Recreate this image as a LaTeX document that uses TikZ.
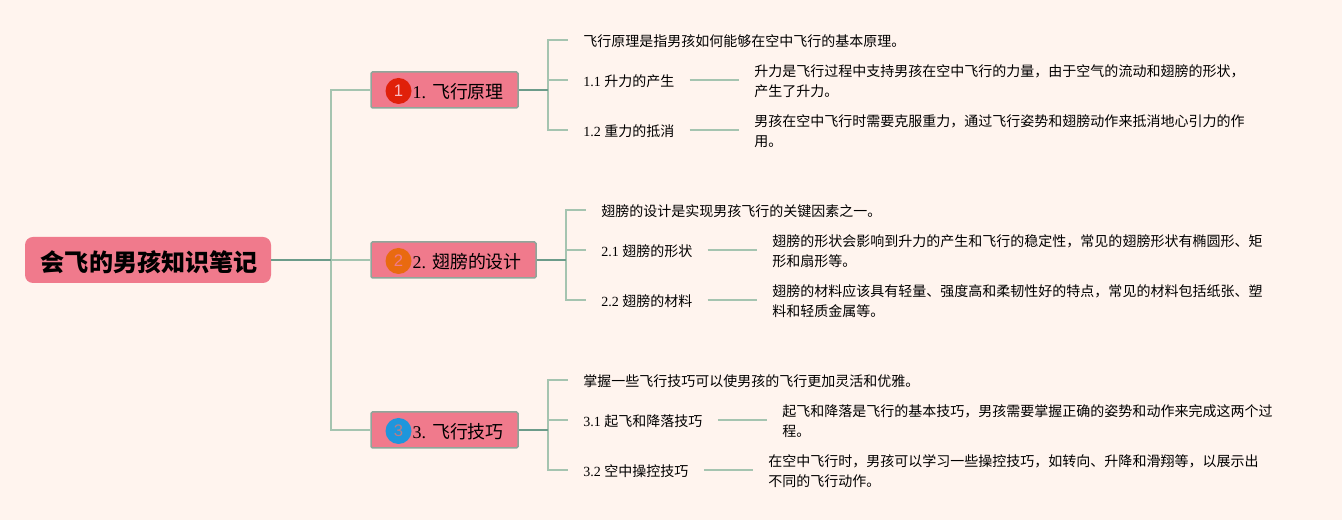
\documentclass[tikz,border=0pt]{standalone}
\usepackage{fontspec}
\setmainfont{Liberation Serif}
\setsansfont{Liberation Sans}
\newfontfamily\cjkfont{Noto Sans CJK SC}
\newcommand{\zh}[1]{{\cjkfont #1}}
\definecolor{map_bg}{RGB}{255,244,238}
\definecolor{map_box}{RGB}{240,122,140}
\definecolor{map_border}{RGB}{143,166,154}
\definecolor{map_line}{RGB}{165,196,176}
\definecolor{map_dark}{RGB}{108,156,138}
\tikzset{
  rootbox/.style={shape=rectangle,rounded corners=0.16cm,fill=map_box,minimum width=4.92cm,minimum height=0.92cm,inner sep=0pt,font=\fontsize{13.7}{16}\selectfont\bfseries,execute at begin node=\rule{0pt}{13.9pt}},
  branchbox/.style={shape=rectangle,rounded corners=0.03cm,draw=map_border,line width=0.03cm,fill=map_box,minimum height=0.72cm,inner sep=0pt,font=\fontsize{10.2}{12}\selectfont,execute at begin node=\rule{0pt}{10.2pt}},
  badge/.style={shape=circle,minimum size=0.52cm,inner sep=0pt,font=\fontsize{9.5}{12}\selectfont\sffamily},
  leaftext/.style={anchor=west,inner xsep=0.3cm,inner ysep=0.05cm,align=left,font=\fontsize{7.97}{11.3}\selectfont,execute at begin node=\rule{0pt}{8.3pt}},
  desctext/.style={leaftext,yshift=-0.03cm},
  link/.style={draw=map_line,line width=0.03cm},
  linkdark/.style={draw=map_dark,line width=0.035cm}
}
\begin{document}
\begin{tikzpicture}
\fill[map_bg] (0,0) rectangle (26.84,10.4);
\useasboundingbox (0,0) rectangle (26.84,10.4);
% root and the three branches
\node[rootbox] (root) at (2.96,5.2) {\hspace*{0.05cm}\zh{会飞的男孩知识笔记}};
\node[branchbox,minimum width=2.94cm] (b1) at (8.89,8.6) {\hspace*{0.55cm}1. \zh{飞行原理}};
\node[branchbox,minimum width=3.30cm] (b2) at (9.07,5.2) {\hspace*{0.55cm}2. \zh{翅膀的设计}};
\node[branchbox,minimum width=2.94cm] (b3) at (8.89,1.8) {\hspace*{0.55cm}3. \zh{飞行技巧}};
\node[badge,fill={rgb,255:red,224;green,32;blue,10},text=map_box!50!white] (badge1) at (7.97,8.58) {1};
\node[badge,fill={rgb,255:red,233;green,106;blue,16},text=map_box] (badge2) at (7.97,5.18) {2};
\node[badge,fill={rgb,255:red,30;green,150;blue,220},text=map_box!50!gray] (badge3) at (7.97,1.78) {3};
% junctions
\coordinate (jroot) at (6.62,5.2);
\coordinate (j1) at (10.96,8.6);
\coordinate (j2) at (11.32,5.2);
\coordinate (j3) at (10.96,1.8);
% first branch
\node[leaftext] (t1) at (11.36,9.6) {\zh{飞行原理是指男孩如何能够在空中飞行的基本原理。}};
\node[leaftext] (t11) at (11.36,8.8) {1.1 \zh{升力的产生}};
\node[leaftext] (t12) at (11.36,7.8) {1.2 \zh{重力的抵消}};
\node[desctext] (d11) at (14.78,8.8) {\zh{升力是飞行过程中支持男孩在空中飞行的力量，由于空气的流动和翅膀的形状，}\\\zh{产生了升力。}};
\node[desctext] (d12) at (14.78,7.8) {\zh{男孩在空中飞行时需要克服重力，通过飞行姿势和翅膀动作来抵消地心引力的作}\\\zh{用。}};
% second branch
\node[leaftext] (t2) at (11.72,6.2) {\zh{翅膀的设计是实现男孩飞行的关键因素之一。}};
\node[leaftext] (t21) at (11.72,5.4) {2.1 \zh{翅膀的形状}};
\node[leaftext] (t22) at (11.72,4.4) {2.2 \zh{翅膀的材料}};
\node[desctext] (d21) at (15.14,5.4) {\zh{翅膀的形状会影响到升力的产生和飞行的稳定性，常见的翅膀形状有椭圆形、矩}\\\zh{形和扇形等。}};
\node[desctext] (d22) at (15.14,4.4) {\zh{翅膀的材料应该具有轻量、强度高和柔韧性好的特点，常见的材料包括纸张、塑}\\\zh{料和轻质金属等。}};
% third branch
\node[leaftext] (t3) at (11.36,2.8) {\zh{掌握一些飞行技巧可以使男孩的飞行更加灵活和优雅。}};
\node[leaftext] (t31) at (11.36,2.0) {3.1 \zh{起飞和降落技巧}};
\node[leaftext] (t32) at (11.36,1.0) {3.2 \zh{空中操控技巧}};
\node[desctext] (d31) at (15.34,2.0) {\zh{起飞和降落是飞行的基本技巧，男孩需要掌握正确的姿势和动作来完成这两个过}\\\zh{程。}};
\node[desctext] (d32) at (15.06,1.0) {\zh{在空中飞行时，男孩可以学习一些操控技巧，如转向、升降和滑翔等，以展示出}\\\zh{不同的飞行动作。}};
% connectors
\draw[link] (jroot) |- (b1.west);
\draw[link] (jroot) -- (b2.west);
\draw[link] (jroot) |- (b3.west);
\draw[linkdark] (root.east) -- (jroot);
\draw[link] (j1) |- (t1.west);
\draw[link] (j1) |- (t11.west);
\draw[link] (j1) |- (t12.west);
\draw[linkdark] (b1.east) -- (j1);
\draw[link] (t11.east) -- (d11.west |- t11.east);
\draw[link] (t12.east) -- (d12.west |- t12.east);
\draw[link] (j2) |- (t2.west);
\draw[link] (j2) |- (t21.west);
\draw[link] (j2) |- (t22.west);
\draw[linkdark] (b2.east) -- (j2);
\draw[link] (t21.east) -- (d21.west |- t21.east);
\draw[link] (t22.east) -- (d22.west |- t22.east);
\draw[link] (j3) |- (t3.west);
\draw[link] (j3) |- (t31.west);
\draw[link] (j3) |- (t32.west);
\draw[linkdark] (b3.east) -- (j3);
\draw[link] (t31.east) -- (d31.west |- t31.east);
\draw[link] (t32.east) -- (d32.west |- t32.east);
\end{tikzpicture}
\end{document}
